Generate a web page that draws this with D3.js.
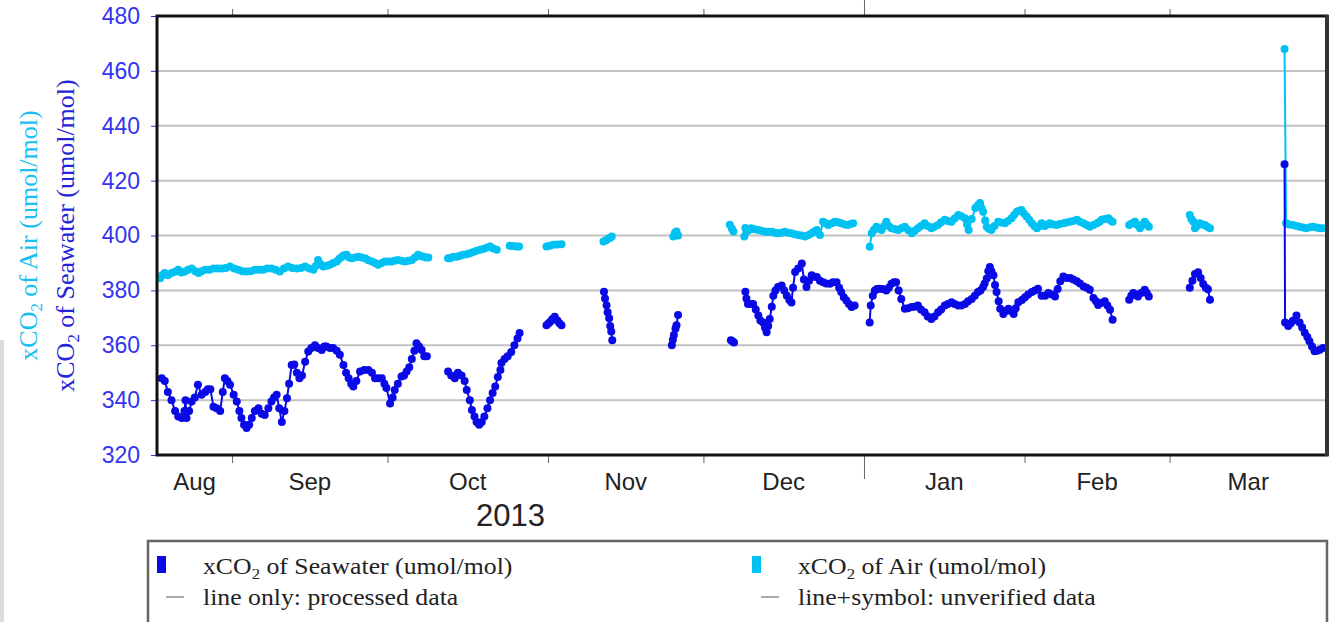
<!DOCTYPE html>
<html>
<head>
<meta charset="utf-8">
<script src="https://cdn.jsdelivr.net/npm/d3@7"></script>
<style>
  html, body { margin: 0; padding: 0; background: #fff; overflow: hidden; }
  svg { display: block; }
</style>
</head>
<body>
<svg id="chart" width="1335" height="622"></svg>
<script>
// Observations: [day offset from 2013-08-18 00:00 UTC, xCO2 in umol/mol]; null marks a break in the record
const startDate = Date.UTC(2013, 7, 18);

const seawaterObs = [
  [0.4,348],[1.0,347],[1.6,343],[2.3,340],[3.0,336],[3.6,334],[4.3,333.5],[4.8,336],[5.0,340],[5.2,333.5],
  [5.7,336],[6.2,339.5],[6.8,341],[7.4,345.6],[8.1,342],[8.8,343],[9.3,344],[9.8,344],[10.4,337.6],[11.0,337],
  [11.7,336],[12.2,343],[12.6,348],[13.1,347],[13.6,345.6],[14.3,342],[14.9,339.5],[15.4,336],[15.8,333.5],[16.3,331],
  [16.8,329.8],[17.3,331],[17.8,333.5],[18.4,336],[19.1,337],[19.7,335],[20.3,334.6],[21.0,337],[21.6,339.5],[22.1,341],
  [22.6,342],[23.1,337],[23.6,332],[24.1,336],[24.6,340.7],[25.0,346],[25.5,352.8],[26.0,353],[26.5,350],[27.0,348],
  [27.5,349],[28.1,354],[28.7,357.7],[29.3,359],[30.0,360],[30.6,359],[31.3,358.3],[31.8,359.5],[32.2,359.5],[32.9,359],
  [33.5,359],[34.2,358],[34.8,356.5],[35.5,352.8],[36.0,350],[36.5,348],[37.0,346],[37.4,345],[38.0,347],[38.7,350.4],
  [39.5,351],[40.3,351],[41.0,350],[41.6,348],[42.2,348],[42.9,348],[43.4,346],[43.8,344.4],[44.5,338.8],[45.0,341],
  [45.4,343.7],[46.0,346],[46.7,348.6],[47.2,349],[47.7,350.4],[48.2,352],[48.7,355],[49.2,358],[49.6,360.7],[50.1,359.5],
  [50.6,358.3],[51.1,356],[51.6,356],
  null,
  [55.7,350.4],[56.3,349],[57.0,348],[57.6,350],[58.3,349],[58.9,347],[59.3,343.7],[59.9,340],[60.3,336.4],[60.8,334],
  [61.2,332],[61.7,331],[62.2,332],[62.7,334],[63.3,337],[63.8,340],[64.3,342.6],[64.8,345],[65.3,348.4],[65.8,351],
  [66.0,353.5],[66.6,355],[67.2,356],[67.9,357.5],[68.5,360],[69.1,362.5],[69.5,364.5],
  null,
  [74.7,367.3],[75.1,368],[75.4,368.5],[75.8,369.5],[76.3,370.4],[76.8,369],[77.2,368],[77.6,367.3],
  null,
  [85.8,379.5],[86.0,377],[86.3,374.6],[86.5,372],[86.8,369.8],[87.0,367],[87.2,365],[87.4,361.8],
  null,
  [98.9,360],[99.1,362],[99.3,363.7],[99.6,366],[99.8,367.3],[100.1,371],
  null,
  [110.3,361.8],[110.6,361.5],[110.9,361],
  null,
  [113.1,379.5],[113.3,377],[113.6,375],[114.1,375],[114.6,375],[115.1,373],[115.6,370.8],[116.0,369],[116.5,368.3],[116.9,366.5],
  [117.2,364.7],[117.5,367],[117.8,369.6],[118.2,374],[118.5,378],[118.9,380],[119.4,381.2],[120.1,381.8],[120.6,380],[121.1,378],
  [121.6,376.5],[122.0,375.6],[122.3,381],[122.7,386.7],[123.3,388],[124.0,389.8],[124.4,384],[124.9,381.2],[125.4,383.5],[125.9,385.5],
  [126.4,385],[126.9,384.9],[127.5,383.5],[128.1,383],[128.7,382.5],[129.4,382.4],[130.0,383],[130.7,383],[131.2,381],[131.6,379.4],
  [132.1,377.5],[132.6,376.3],[133.1,375],[133.6,373.9],[134.2,374.5],
  null,
  [137.1,368.3],[137.3,374.5],[137.7,378],[138.1,380],[138.5,380.5],[139.0,380.6],[139.6,380.5],[140.3,380],[140.8,381],[141.3,382.4],
  [141.8,383],[142.2,383],[142.7,380],[143.2,376.9],[143.9,373.3],[144.5,373.5],[145.2,373.9],[145.8,374],[146.4,374.5],[147.0,373],
  [147.7,372],[148.3,370.5],[149.0,369.6],[149.6,370.5],[150.3,372],[150.9,373],[151.6,374.5],[152.2,375],[152.9,375.7],[153.5,375],
  [154.2,374.5],[154.8,374.5],[155.5,375],[156.1,376],[156.8,376.9],[157.4,378],[158.0,379.4],[158.5,380],[159.0,381.2],[159.3,382.5],
  [159.7,384.3],[160.0,387],[160.3,388.5],[160.6,387],[161.0,385.5],[161.3,382],[161.6,379.4],[162.0,376],[162.3,373.3],[162.9,371.4],
  [163.4,372.5],[163.9,373.3],[164.4,372.5],[164.9,371.4],[165.3,373.5],[165.8,375.7],[166.5,376.5],[167.1,377.5],[167.7,378.5],[168.4,379.4],
  [169.0,380],[169.6,380.6],[170.3,378],[171.0,378],[171.6,379],[172.3,378.5],[172.9,377.8],[173.4,380.5],[173.9,383.3],[174.5,385.1],
  [175.1,384.5],[175.8,384.5],[176.4,384],[177.1,383.3],[177.7,382.5],[178.4,381.4],[179.0,381],[179.6,380.2],[180.3,377.2],[180.8,376],
  [181.2,374.7],[181.9,375.5],[182.5,376],[183.0,374.5],[183.5,372.9],[184.0,369.3],
  null,
  [187.2,376.6],[187.6,378],[188.0,379],[188.5,378.5],[188.9,377.8],[189.5,379],[190.2,380.2],[190.6,379],[191.0,377.8],
  null,
  [198.9,381],[199.4,383.5],[199.9,386],[200.5,386.6],[201.0,384.5],[201.5,382.3],[202.0,381],[202.4,380.4],[202.8,376.6],
  null,
  [217.2,426],[217.3,368.3],[217.9,367],[218.4,368],[218.8,368.9],[219.5,370.8],[220.1,368.3],[220.6,366.5],[221.1,364.6],[221.6,363],
  [222.0,361.5],[222.5,359.5],[223.0,357.8],[223.5,358],[224.0,358.4],[224.6,359]
];

const airObs = [
  [0.1,384.4],[0.5,385.5],[1.0,386.3],[1.6,385.5],[2.3,386.3],[3.0,386.8],[3.6,387.5],[4.2,386.5],[4.9,386.9],[5.5,387.5],
  [6.2,388],[6.9,387],[7.5,386.3],[8.1,387],[8.8,387.5],[9.6,387.5],[10.4,388],[11.2,388],[12.0,388],[12.8,388.2],
  [13.6,388.7],[14.4,388],[15.2,387.5],[16.0,387],[16.8,386.9],[17.6,387],[18.4,387.5],[19.2,387.5],[20.0,387.5],[20.8,388],
  [21.6,388],[22.4,387.5],[23.2,386.9],[24.0,388],[24.8,388.7],[25.6,388.2],[26.5,388],[27.3,388.2],[28.1,388.7],[28.9,388],
  [29.7,387.5],[30.2,389],[30.6,391.1],[31.1,389.5],[31.6,388.7],[32.3,389],[32.9,389.3],[33.5,390],[34.2,390.5],[34.7,391.5],
  [35.2,392.3],[35.6,392.8],[36.1,393],[36.6,392],[37.1,391.7],[37.7,392],[38.4,392.3],[39.0,392],[39.7,391.7],[40.3,391],
  [41.0,390.5],[41.6,390],[42.2,389.3],[42.9,390],[43.5,390.5],[44.1,390.5],[44.8,390.5],[45.4,390.8],[46.0,391.1],[46.7,390.8],
  [47.4,390.5],[48.0,390.8],[48.7,391.1],[49.3,392],[49.9,393],[50.4,392.5],[50.9,392.3],[51.4,392],[51.9,392],
  null,
  [55.7,391.7],[56.1,391.7],[56.7,392.3],[57.4,392.3],[58.0,392.6],[58.6,393],[59.3,393.2],[59.9,393.5],[60.6,394],[61.2,394.4],
  [61.9,394.8],[62.5,395.1],[63.1,395.5],[63.8,396],[64.4,395.3],[65.1,394.8],
  null,
  [67.6,396.3],[68.2,396.2],[68.9,396],[69.4,396],
  null,
  [74.7,396],[75.3,396.3],[76.0,396.6],[76.8,396.7],[77.6,396.8],
  null,
  [85.7,397.8],[86.2,398.3],[86.6,398.8],[87.0,399.2],[87.3,399.6],
  null,
  [99.2,399.6],[99.5,401],[99.8,401.5],[100.1,400],
  null,
  [110.1,403.9],[110.5,402.5],[110.8,401.5],
  null,
  [112.9,399.6],[113.1,402.7],[113.3,401.4],[113.8,402],[114.2,402.6],[114.9,402.3],[115.6,402],[116.2,401.7],[116.9,401.4],[117.5,401.4],
  [118.2,401.4],[118.8,401],[119.4,400.8],[120.1,401],[120.7,401.4],[121.3,401],[122.0,400.8],[122.6,400.5],[123.3,400.2],[124.0,400],
  [124.6,399.6],[125.3,400.2],[125.9,400.8],[126.4,401.5],[126.9,402],[127.5,400.2],[128.1,405],[128.6,404.5],[129.1,403.8],[129.8,404.5],
  [130.4,405],[131.0,404.8],[131.6,404.5],[132.3,404],[132.9,403.8],[133.4,404.2],[133.9,404.5],
  null,
  [137.1,395.9],[137.5,400.8],[137.9,402],[138.4,403.2],[138.9,402.5],[139.4,402],[139.9,403.5],[140.3,405],[140.8,403.5],[141.3,402.6],
  [142.0,402.3],[142.6,402],[143.2,402.6],[143.9,403.2],[144.5,402],[145.2,400.8],[145.8,401.7],[146.4,402.6],[147.0,403.5],[147.7,404.5],
  [148.3,403.5],[149.0,402.6],[149.6,403.2],[150.3,403.8],[150.9,404.8],[151.6,405.7],[152.2,405.3],[152.9,405],[153.5,406.2],[154.2,407.5],
  [154.8,407],[155.5,406.3],[155.9,404],[156.2,402],[156.8,406],[157.5,410],[158.0,411],[158.4,411.8],[158.7,410],[159.0,408.7],
  [159.4,405.5],[159.7,403.2],[160.1,402.5],[160.6,402],[161.2,403.5],[161.9,405],[162.5,404.7],[163.2,404.5],[163.8,405.3],[164.5,406.3],
  [165.0,407.5],[165.5,408.7],[166.0,409],[166.4,409.3],[166.9,408],[167.4,406.9],[167.9,405.7],[168.4,404.5],[168.9,403.5],[169.4,402.6],
  [169.9,403.5],[170.3,404.5],[170.9,403.5],[171.4,404],[171.9,404.5],[172.5,404],[173.2,403.8],[173.8,404.2],[174.5,404.5],[175.1,404.7],
  [175.8,405],[176.4,405.3],[177.1,405.7],[177.7,405],[178.4,404.5],[179.0,403.8],[179.6,403.2],[180.3,403.8],[181.0,404.5],[181.5,405],
  [181.9,405.7],[182.5,406],[183.2,406.3],[183.6,405.5],[184.0,405],
  null,
  [187.2,403.8],[187.7,404.4],[188.3,405],[188.8,403.8],[189.3,402.6],[189.7,403.8],[190.2,405],[190.6,404],[191.0,403.2],
  null,
  [198.9,407.5],[199.2,406],[199.6,405],[199.9,402.6],[200.3,403.5],[200.8,404.5],[201.3,404],[201.8,403.8],[202.3,403.2],[202.8,402.6],
  null,
  [217.2,468],[217.5,404.5],[218.1,404],[218.8,403.8],[219.5,403.5],[220.1,403.2],[220.8,402.9],[221.4,402.6],[222.1,403],[222.7,403.2],
  [223.4,402.9],[224.0,402.6],[224.6,402.6]
];

const yTicks = [320, 340, 360, 380, 400, 420, 440, 460, 480];
const gridValues = [340, 360, 380, 400, 420, 440, 460];
const yearLabel = "2013";
const seawaterTitle = ["xCO", "2", " of Seawater (umol/mol)"];
const airTitle = ["xCO", "2", " of Air (umol/mol)"];
const legendSymbols = [
  { kind: "box", color: "#0a0ae6", text: ["xCO", "2", " of Seawater (umol/mol)"], col: 0, row: 0 },
  { kind: "box", color: "#00c2f2", text: ["xCO", "2", " of Air (umol/mol)"], col: 1, row: 0 },
  { kind: "dash", color: "#aaaaaa", text: ["line only: processed data"], col: 0, row: 1 },
  { kind: "dash", color: "#aaaaaa", text: ["line+symbol: unverified data"], col: 1, row: 1 }
];

const colors = { sea: "#0a0ae6", air: "#00c2f2", tick: "#3434f0", seaTitle: "#2323d8", airTitle: "#18bff0" };
const plot = { left: 157, top: 16, right: 1327, bottom: 455 };
const sansFont = "'Liberation Sans', Arial, Helvetica, sans-serif";
const serifFont = "'Liberation Serif', 'Times New Roman', serif";

const svg = d3.select("#chart");

const x = d3.scaleUtc()
  .domain([new Date(Date.UTC(2013, 7, 17, 12)), new Date(Date.UTC(2014, 2, 31, 9, 30))])
  .range([plot.left, plot.right]);
const y = d3.scaleLinear().domain([320, 480]).range([plot.bottom, plot.top]);

const toPoint = d => d ? { t: new Date(startDate + d[0] * 864e5), v: d[1] } : null;
const seawater = seawaterObs.map(toPoint);
const air = airObs.map(toPoint);

// faint edge strip on the left margin
svg.append("rect").attr("x", 0).attr("y", 340).attr("width", 4).attr("height", 282).attr("fill", "#dcdcdc");

// horizontal grid
svg.append("g").selectAll("line").data(gridValues).join("line")
  .attr("x1", plot.left).attr("x2", plot.right)
  .attr("y1", d => y(d)).attr("y2", d => y(d))
  .attr("stroke", "#c2c2c2").attr("stroke-width", 2);

// month boundaries
const monthStarts = d3.utcMonth.range(x.domain()[0], x.domain()[1]);
const isYearStart = d => d.getUTCMonth() === 0;

const bottomAxis = svg.append("g").attr("transform", `translate(0,${plot.bottom})`)
  .call(d3.axisBottom(x).tickValues(monthStarts).tickSize(8).tickFormat(""));
bottomAxis.select(".domain").remove();
bottomAxis.selectAll(".tick line").attr("stroke", "#666").attr("y2", d => isYearStart(d) ? 24 : 8);

const topAxis = svg.append("g").attr("transform", `translate(0,${plot.top})`)
  .call(d3.axisTop(x).tickValues(monthStarts).tickSize(7).tickFormat(""));
topAxis.select(".domain").remove();
topAxis.selectAll(".tick line").attr("stroke", "#666").attr("y2", d => isYearStart(d) ? -16 : -7);

// month names centred in each month span
const bounds = [x.domain()[0], ...monthStarts, x.domain()[1]];
const monthMid = d3.pairs(bounds).map(([a, b]) => ({ date: a, mid: (x(a) + x(b)) / 2 }));
svg.append("g").selectAll("text").data(monthMid).join("text")
  .attr("x", d => d.mid).attr("y", 490)
  .attr("text-anchor", "middle")
  .attr("font-family", sansFont).attr("font-size", 24).attr("fill", "#222")
  .text(d => d3.utcFormat("%b")(d.date));

const yearEnd = monthStarts.find(isYearStart);
svg.append("text")
  .attr("x", (x(x.domain()[0]) + x(yearEnd)) / 2).attr("y", 526)
  .attr("text-anchor", "middle")
  .attr("font-family", sansFont).attr("font-size", 31).attr("fill", "#222")
  .text(yearLabel);

// y axis
const leftAxis = svg.append("g").attr("transform", `translate(${plot.left},0)`)
  .call(d3.axisLeft(y).tickValues(yTicks).tickSize(6).tickPadding(11));
leftAxis.select(".domain").remove();
leftAxis.selectAll(".tick line").attr("stroke", colors.tick);
leftAxis.selectAll(".tick text")
  .attr("font-family", sansFont).attr("font-size", 23).attr("fill", colors.tick);

// text with a subscript "2"
function subscriptText(sel, parts, size) {
  sel.append("tspan").text(parts[0]);
  if (parts.length > 1) {
    sel.append("tspan").attr("font-size", size * 0.65).attr("dy", size * 0.2).text(parts[1]);
    sel.append("tspan").attr("dy", -size * 0.2).text(parts[2]);
  }
}
const midY = (plot.top + plot.bottom) / 2;
const airT = svg.append("text")
  .attr("transform", `translate(37,${midY}) rotate(-90)`)
  .attr("text-anchor", "middle").attr("font-family", serifFont).attr("font-size", 26)
  .attr("fill", colors.airTitle);
subscriptText(airT, airTitle, 26);
const seaT = svg.append("text")
  .attr("transform", `translate(74,${midY}) rotate(-90)`)
  .attr("text-anchor", "middle").attr("font-family", serifFont).attr("font-size", 26)
  .attr("fill", colors.seaTitle);
subscriptText(seaT, seawaterTitle, 26);

// series: connected symbols, broken where the record has gaps
const line = d3.line().defined(d => d != null).x(d => x(d.t)).y(d => y(d.v));
function drawSeries(data, color) {
  const g = svg.append("g");
  g.append("path").datum(data).attr("d", line)
    .attr("fill", "none").attr("stroke", color).attr("stroke-width", 2);
  g.selectAll("circle").data(data.filter(d => d != null)).join("circle")
    .attr("cx", d => x(d.t)).attr("cy", d => y(d.v)).attr("r", 4)
    .attr("fill", color);
}
drawSeries(air, colors.air);
drawSeries(seawater, colors.sea);

// frame
svg.append("rect")
  .attr("x", plot.left).attr("y", plot.top)
  .attr("width", plot.right - plot.left).attr("height", plot.bottom - plot.top)
  .attr("fill", "none").attr("stroke", "#111").attr("stroke-width", 3);
svg.append("line").attr("x1", plot.right).attr("x2", plot.right)
  .attr("y1", plot.top - 1).attr("y2", plot.bottom + 1)
  .attr("stroke", "#333").attr("stroke-width", 4);

// legend
const legend = svg.append("g");
legend.append("rect").attr("x", 148).attr("y", 541).attr("width", 1179).attr("height", 100)
  .attr("fill", "none").attr("stroke", "#666").attr("stroke-width", 2.5);
const colX = [157, 752];
const rowY = [574, 605];
legendSymbols.forEach(item => {
  const x0 = colX[item.col], yb = rowY[item.row];
  if (item.kind === "box") {
    legend.append("rect").attr("x", x0).attr("y", yb - 18).attr("width", 9).attr("height", 17)
      .attr("fill", item.color);
  } else {
    legend.append("line").attr("x1", x0 + 9).attr("x2", x0 + 27)
      .attr("y1", yb - 8).attr("y2", yb - 8)
      .attr("stroke", item.color).attr("stroke-width", 2);
  }
  const t = legend.append("text")
    .attr("transform", `translate(${x0 + 46},${yb}) scale(1.12,1)`)
    .attr("font-family", serifFont).attr("font-size", 23).attr("fill", "#222");
  subscriptText(t, item.text, 23);
});
</script>
</body>
</html>
